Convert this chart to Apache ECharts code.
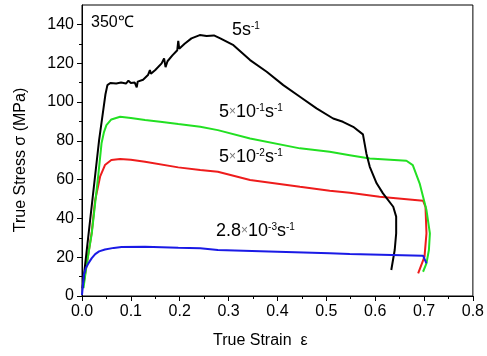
<!DOCTYPE html>
<html><head><meta charset="utf-8">
<script src="https://cdn.jsdelivr.net/npm/echarts@6/dist/echarts.min.js"></script>
<style>html,body{margin:0;padding:0;background:#fff}#c{width:487px;height:356px}</style>
</head><body><div id="c"></div>
<script>
const xTicks = [0,0.1,0.2,0.3,0.4,0.5,0.6,0.7,0.8];
const yTicks = [0,20,40,60,80,100,120,140];

const strain5 = [0.001,0.035,0.0435,0.048,0.052,0.058,0.07,0.08,0.09,0.095,0.10,0.108,0.112,0.114,0.125,0.135,0.139,0.141,0.150,0.163,0.168,0.171,0.175,0.185,0.195,0.197,0.199,0.21,0.224,0.241,0.255,0.270,0.283,0.31,0.344,0.378,0.412,0.446,0.480,0.514,0.534,0.555,0.575,0.582,0.589,0.603,0.616,0.637,0.643,0.643,0.640,0.633];
const stress5 = [4,80.4,95.8,104,108.7,109.8,109.5,110,109.5,111,109.8,110,107.5,110.5,111.5,113.9,116.5,114.5,116.5,119.9,122.5,118,121,124,126.7,131.5,127.5,130,132.8,134.5,134,134.3,132.8,129.3,121.6,115.6,108.7,102.7,96.7,91.5,89.8,87.2,83.3,73.5,66.6,58.1,52.9,46,40.9,32.3,23.7,13.4];

const strain5e1 = [0.003,0.010,0.020,0.033,0.040,0.045,0.050,0.060,0.078,0.10,0.129,0.16,0.197,0.242,0.278,0.344,0.446,0.507,0.548,0.589,0.664,0.677,0.691,0.705,0.712,0.710,0.705,0.698];
const stress5e1 = [4,17,32.3,61.5,78.7,84.5,88.1,91,92.4,91.8,90.7,89.8,88.6,87.2,85.5,81.2,76.1,74.3,72.6,70.9,69.7,67.5,58.1,44.3,32.3,23.7,16.8,12.5];

const strain5e2 = [0.003,0.012,0.020,0.027,0.037,0.047,0.060,0.078,0.10,0.129,0.197,0.242,0.278,0.344,0.446,0.507,0.548,0.609,0.698,0.703,0.705,0.701,0.688];
const stress5e2 = [6,20,33,49.5,61.5,67.5,70.1,70.6,70.2,69.2,66.3,64.9,64,59.8,56.3,54.3,53.2,51.2,49.1,46,32.3,20.3,11.7];

const strain28e3 = [0.000,0.002,0.004,0.008,0.013,0.02,0.027,0.035,0.047,0.065,0.081,0.129,0.197,0.242,0.278,0.40,0.507,0.548,0.698,0.705];
const stress28e3 = [0.5,6,11,14.5,16.8,19.5,21.6,23,24,24.8,25.2,25.4,24.9,24.6,23.7,22.8,22,21.6,20.8,16.8];

const FONT = '"Liberation Sans", Arial, sans-serif';
const zip = (a,b) => a.map((v,i)=>[v,b[i]]);

const chart = echarts.init(document.getElementById('c'), null, {renderer:'canvas'});

function mkSeries(name, xs, ys, color){
  return {name, type:'line', data: zip(xs,ys), showSymbol:false, symbol:'none',
    lineStyle:{color, width:2}, itemStyle:{color}, animation:false, z:2};
}

const richBase = {
  a:{fontSize:18, fontFamily:FONT, fill:'#000'},
  x:{fontSize:12, fontFamily:FONT, fill:'#777'},
  s:{fontSize:10, fontFamily:FONT, fill:'#000', verticalAlign:'top'}
};
function label(left, top, text){
  return {type:'text', left, top, z:10, style:{text, rich:richBase, font:'18px '+FONT, fill:'#000'}};
}

chart.setOption({
  animation:false,
  grid:{left:82, right:14, top:5, bottom:60, show:true, borderColor:'#000', borderWidth:1},
  xAxis:{type:'value', min:0, max:0.8, interval:0.1,
    axisLine:{lineStyle:{color:'#000', width:1}},
    axisTick:{show:true, inside:false, length:5, lineStyle:{color:'#000'}},
    minorTick:{show:true, splitNumber:2, length:3, lineStyle:{color:'#000'}},
    splitLine:{show:false},
    axisLabel:{color:'#000', fontSize:16, fontFamily:FONT, margin:8, formatter:v=>v.toFixed(1),
      customValues:xTicks}
  },
  yAxis:{type:'value', min:0, max:150, interval:20,
    axisLine:{show:true, lineStyle:{color:'#000', width:1}},
    axisTick:{show:true, inside:false, length:5, lineStyle:{color:'#000'}, customValues:yTicks},
    minorTick:{show:true, splitNumber:2, length:3, lineStyle:{color:'#000'}},
    splitLine:{show:false},
    axisLabel:{color:'#000', fontSize:16, fontFamily:FONT, margin:8, customValues:yTicks}
  },
  series:[
    mkSeries('5e-2', strain5e2, stress5e2, '#ee1c1c'),
    mkSeries('5e-1', strain5e1, stress5e1, '#22e022'),
    mkSeries('5', strain5, stress5, '#000000'),
    mkSeries('2.8e-3', strain28e3, stress28e3, '#1a1ae6')
  ],
  graphic:[
    {type:'text', left:91, top:15, style:{text:'350℃', font:'16px '+FONT, fill:'#000'}},
    label(232, 21, '{a|5s}{s|-1}'),
    label(219, 103, '{a|5}{x|×}{a|10}{s|-1}{a|s}{s|-1}'),
    label(219, 148, '{a|5}{x|×}{a|10}{s|-2}{a|s}{s|-1}'),
    label(216, 222, '{a|2.8}{x|×}{a|10}{s|-3}{a|s}{s|-1}'),
    {type:'text', left:213, top:333, style:{text:'True Strain  ε', font:'16px '+FONT, fill:'#000'}},
    {type:'text', x:21, y:160, rotation:Math.PI/2,
      style:{text:'True Stress σ (MPa)', font:'16px '+FONT, fill:'#000', align:'center', verticalAlign:'middle'}}
  ]
});
</script>
</body></html>
